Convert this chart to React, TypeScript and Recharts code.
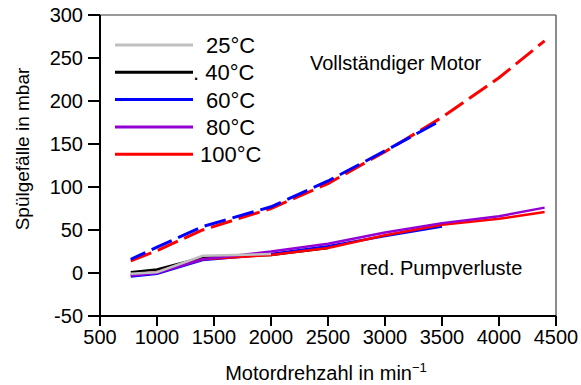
import React from 'react';
import { LineChart, Line, XAxis, YAxis, ReferenceLine, Customized } from 'recharts';

const rpm = [770, 1000, 1400, 2000, 2500, 3000, 3500, 4000, 4400];
const full60 = [16, 30, 54, 77, 107, 142, 178];
const full100 = [14, 26, 50, 75, 104, 141, 181, 227, 270];
const pump25 = [-1, 1, 20, 22];
const pump40 = [1, 4, 18, 21, 29];
const pump60 = [-4, -1, 15, 22, 31, 43, 54];
const pump80 = [-3, 0, 16, 25, 34, 47, 58, 66, 76];
const pump100 = [-2, 1, 16, 21, 29, 44, 56, 63, 71];
const xTicks = [500, 1000, 1500, 2000, 2500, 3000, 3500, 4000, 4500];
const yTicks = [-50, 0, 50, 100, 150, 200, 250, 300];
const legendLabels = ['25°C', '. 40°C', '60°C', '80°C', '100°C'];
const legendColors = ['#c0c0c0', '#000000', '#0000ff', '#9400d3', '#ff0000'];
const FONT = '"Liberation Sans", Arial, sans-serif';

const pts = (vals: number[]) => vals.map((v, i) => ({ rpm: rpm[i], v }));

const Overlay = () => (
  <g fontFamily={FONT} fill="#000">
    {legendLabels.map((l, i) => {
      const y = 45 + i * 27.3;
      const dot = l.startsWith('.');
      return (
        <g key={l}>
          <line x1={115} x2={193} y1={y} y2={y} stroke={legendColors[i]} strokeWidth={3} />
          <text x={l === '100°C' ? 200 : dot ? 193 : 206} y={y + 8} fontSize={22}>
            {l}
          </text>
        </g>
      );
    })}
    <text x={310} y={70} fontSize={20}>Vollständiger Motor</text>
    <text x={360} y={275} fontSize={20}>red. Pumpverluste</text>
    <text x={0} y={0} fontSize={19} textAnchor="middle" transform="translate(29,149) rotate(-90)">
      Spülgefälle in mbar
    </text>
    <text x={326} y={380} fontSize={20} textAnchor="middle">
      Motordrehzahl in min<tspan dy={-8} fontSize={13}>−1</tspan>
    </text>
  </g>
);

export default function App() {
  const tickStyle = { fontSize: 20, fill: '#000', fontFamily: FONT };
  return (
    <div style={{ position: 'absolute', left: 0, top: 0, background: '#fff' }}>
      <LineChart width={581} height={385} margin={{ top: 15, right: 25, bottom: 0, left: 0 }}>
        <XAxis
          dataKey="rpm"
          type="number"
          domain={[500, 4500]}
          ticks={xTicks}
          allowDataOverflow
          height={69}
          tick={tickStyle}
          tickSize={10}
          tickMargin={4}
          stroke="#000"
          strokeWidth={2}
        />
        <YAxis
          type="number"
          domain={[-50, 300]}
          ticks={yTicks}
          allowDataOverflow
          width={100}
          tick={tickStyle}
          tickSize={12}
          tickMargin={5}
          stroke="#000"
          strokeWidth={2}
        />
        <ReferenceLine y={300} stroke="#777" strokeWidth={1.5} />
        <ReferenceLine x={4500} stroke="#666" strokeWidth={1.5} />
        <Line data={pts(pump40)} dataKey="v" stroke="#000000" strokeWidth={2.5} dot={false} isAnimationActive={false} />
        <Line data={pts(pump60)} dataKey="v" stroke="#0000ff" strokeWidth={2.5} dot={false} isAnimationActive={false} />
        <Line data={pts(pump100)} dataKey="v" stroke="#ff0000" strokeWidth={2.5} dot={false} isAnimationActive={false} />
        <Line data={pts(pump80)} dataKey="v" stroke="#9400d3" strokeWidth={2.5} dot={false} isAnimationActive={false} />
        <Line data={pts(pump25)} dataKey="v" stroke="#c0c0c0" strokeWidth={2.5} dot={false} isAnimationActive={false} />
        <Line data={pts(full100)} dataKey="v" stroke="#ff0000" strokeWidth={3} strokeDasharray="22 7" dot={false} isAnimationActive={false} />
        <Line data={pts(full60)} dataKey="v" stroke="#0000ff" strokeWidth={3} strokeDasharray="22 7" strokeDashoffset={6} dot={false} isAnimationActive={false} />
        <Customized component={<Overlay />} />
      </LineChart>
    </div>
  );
}
